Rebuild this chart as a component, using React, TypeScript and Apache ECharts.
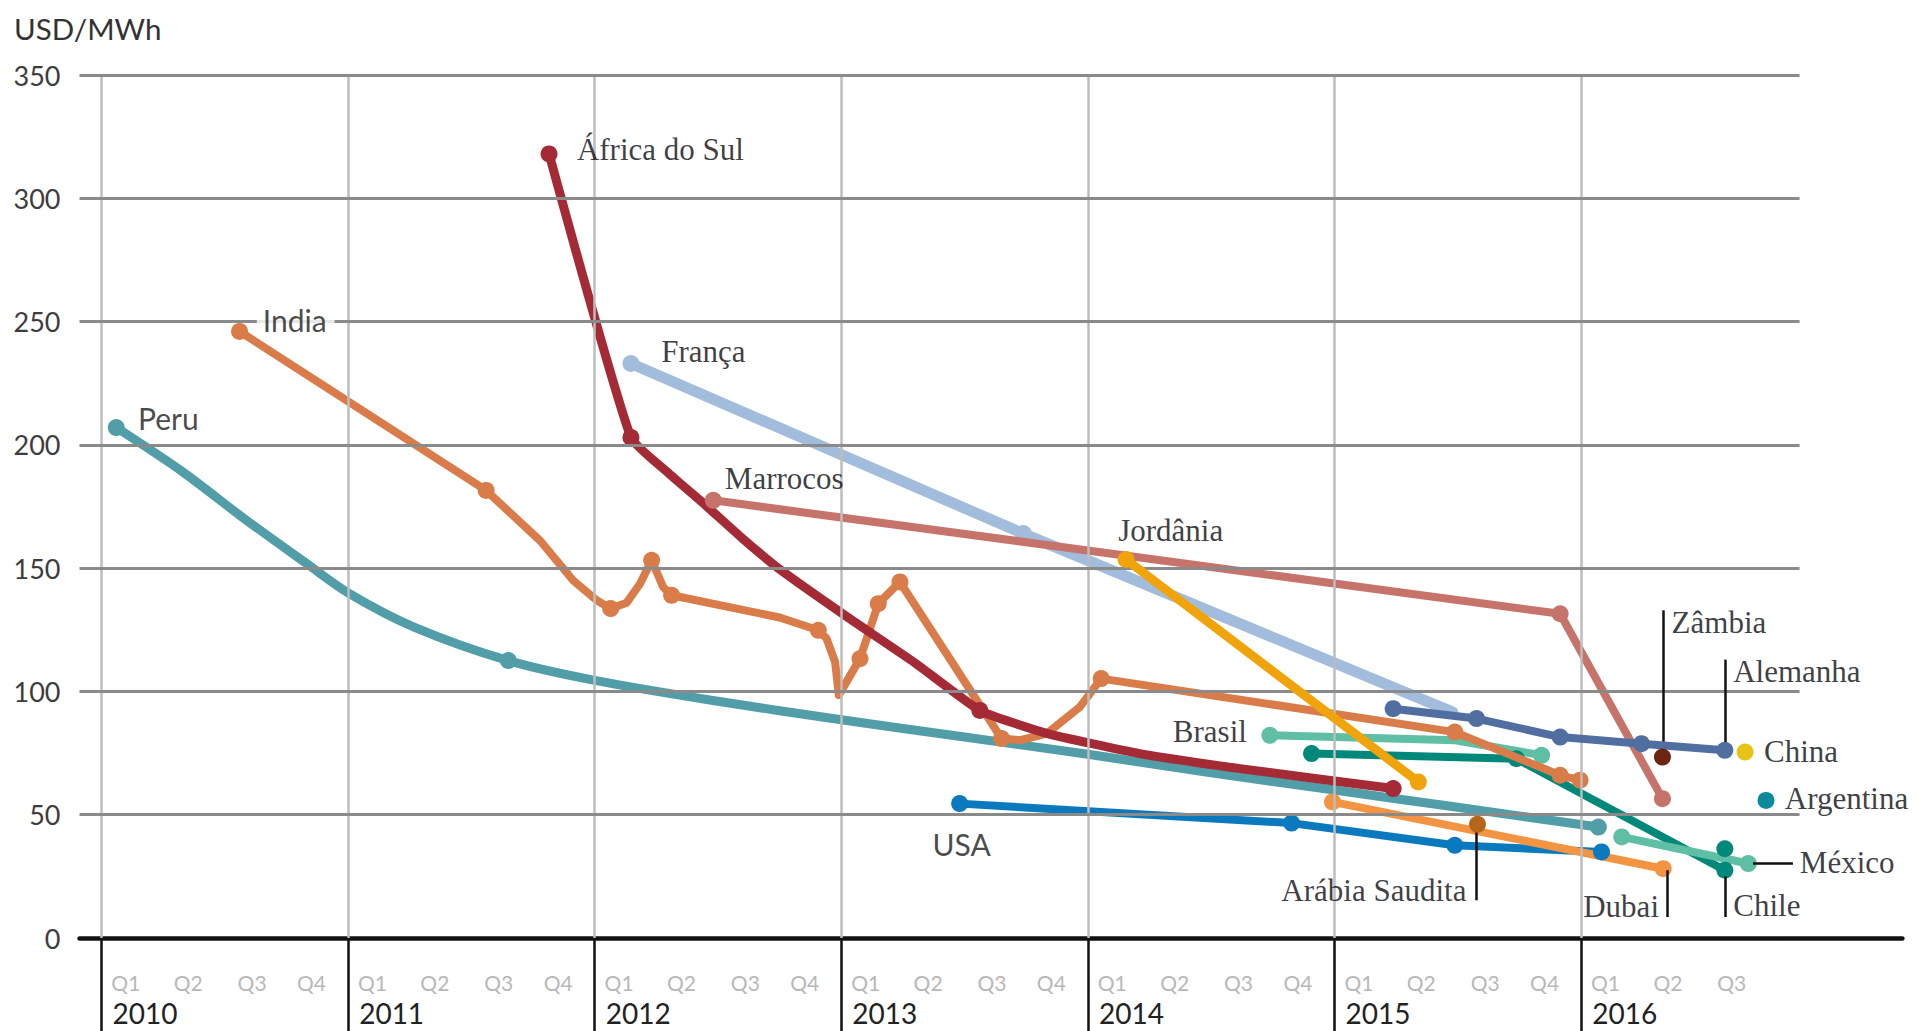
import { useEffect, useRef } from "react";
import * as echarts from "echarts";

// ---------------- DATA ----------------
const unitLabel = "USD/MWh";
const years = [2010, 2011, 2012, 2013, 2014, 2015, 2016];
const quarterNames = ["Q1", "Q2", "Q3", "Q4"];
const quartersIn2016 = 3;
const yGridValues = [50, 100, 150, 200, 250, 300, 350];

// point: [time in decimal years, USD/MWh, 1 = auction marker / 0 = curve point]
const peru = [
  [2010.06, 207, 1], [2010.33, 189, 0], [2010.58, 170, 0], [2010.83, 152, 0],
  [2011.0, 140, 0], [2011.27, 126, 0], [2011.65, 112.5, 1], [2012.0, 104.5, 0],
  [2012.5, 96, 0], [2013.0, 88.5, 0], [2013.5, 81.5, 0], [2014.0, 74.5, 0],
  [2014.5, 67, 0], [2015.0, 60, 0], [2015.5, 53, 0], [2016.07, 45, 1],
];
const india = [
  [2010.56, 246, 1], [2011.56, 181.5, 1], [2011.78, 161, 0], [2011.913, 145, 0],
  [2012.008, 137, 0], [2012.065, 133.6, 1], [2012.13, 136, 0], [2012.184, 143.7, 0],
  [2012.231, 153.2, 1], [2012.278, 142.3, 0], [2012.312, 139, 1], [2012.75, 130, 0],
  [2012.907, 124.8, 1], [2012.94, 121.5, 0], [2012.975, 112, 0], [2012.99, 98.5, 0],
  [2013.076, 113.3, 1], [2013.15, 135.6, 1], [2013.238, 144.4, 1], [2013.65, 80.9, 1],
  [2013.725, 80.2, 0], [2013.833, 82.9, 0], [2013.968, 93.7, 0], [2014.054, 105.2, 1],
  [2015.488, 83.5, 1], [2015.915, 66, 1], [2015.996, 64, 1],
];
const africaDoSul = [
  [2011.815, 318, 1], [2012.147, 203, 1], [2012.3, 188.5, 0], [2012.45, 175.5, 0],
  [2012.6, 162, 0], [2012.751, 149.5, 0], [2013.02, 130.5, 0], [2013.3, 111.5, 0],
  [2013.562, 92.3, 1], [2013.833, 83, 0], [2014.21, 74.8, 0], [2014.617, 68.7, 0],
  [2015.238, 60.6, 1],
];
const franca = [[2012.147, 233, 1], [2013.738, 164, 1], [2015.48, 91.6, 0]];
const marrocos = [[2012.481, 177.5, 1], [2015.915, 131.5, 1], [2016.33, 56.5, 1]];
const jordania = [[2014.155, 153.5, 1], [2015.34, 63.3, 1]];
const usa = [[2013.48, 54.5, 1], [2014.826, 46.6, 1], [2015.488, 37.6, 1], [2016.083, 34.9, 1]];
const brasil = [[2014.738, 82.2, 1], [2015.49, 80.2, 0], [2015.84, 74.1, 1]];
const chile = [[2014.907, 74.8, 1], [2015.738, 72.7, 1], [2016.583, 27.5, 1]];
const mexico = [[2016.165, 41, 1], [2016.678, 30.2, 1]];
const dubai = [[2014.992, 55.2, 1], [2016.333, 28.1, 1]];
const alemanha = [
  [2015.238, 93, 1], [2015.576, 89, 1], [2015.915, 81.5, 1], [2016.245, 78.8, 1], [2016.583, 76.1, 1],
];
// single auctions
const zambia = [[2016.33, 73.4]];
const china = [[2016.665, 75.4]];
const argentina = [[2016.75, 55.8]];
const arabiaSaudita = [[2015.58, 46.1]];
const chileSecond = [[2016.583, 36.2]];

// ---------------- LAYOUT / STYLE ----------------
const X_MIN = 2009.911;
const X_MAX = 2017.303;
const GRID_END = 2016.886;
const Y_MAX = 350;
const Q_OFFSETS = [0.099, 0.352, 0.611, 0.852];
const MARK = 17;

const SERIF = "'Liberation Serif', 'DejaVu Serif', serif";
const SANS = "Lato, 'Open Sans', sans-serif";

const lines = [
  { name: "França", data: franca, color: "#a2bcdc", width: 11, z: 2 },
  { name: "Peru", data: peru, color: "#519ea8", width: 9, z: 2, smooth: 0.3 },
  { name: "USA", data: usa, color: "#0b79bd", width: 8, z: 2 },
  { name: "Dubai", data: dubai, color: "#f39443", width: 8, z: 2 },
  { name: "Brasil", data: brasil, color: "#5fbfa4", width: 8, z: 2 },
  { name: "Chile", data: chile, color: "#00897a", width: 8, z: 2 },
  { name: "México", data: mexico, color: "#5fbfa4", width: 8, z: 2 },
  { name: "India", data: india, color: "#d97c4a", width: 8, z: 3 },
  { name: "África do Sul", data: africaDoSul, color: "#a42b35", width: 9, z: 4, smooth: 0.15 },
  { name: "Marrocos", data: marrocos, color: "#c6746b", width: 8, z: 4 },
  { name: "Jordânia", data: jordania, color: "#f0a30a", width: 9, z: 5 },
  { name: "Alemanha", data: alemanha, color: "#506fa0", width: 8, z: 5 },
];

const singles = [
  { name: "Arábia Saudita", data: arabiaSaudita, color: "#b7651b" },
  { name: "Zâmbia", data: zambia, color: "#6b2511" },
  { name: "China", data: china, color: "#e7c316" },
  { name: "Argentina", data: argentina, color: "#0b8a9c" },
  { name: "Chile 2", data: chileSecond, color: "#00897a" },
];

// label anchors (data coordinates); anchor "start" = text begins at point, "end" = text ends at point
const labels = [
  { text: "Peru", t: 2010.148, v: 211, anchor: "start", font: "sans" },
  { text: "India", t: 2010.63, v: 250.5, anchor: "start", font: "sans", bg: true },
  { text: "USA", t: 2013.37, v: 38.2, anchor: "start", font: "sans" },
  { text: "África do Sul", t: 2011.928, v: 319.8, anchor: "start", font: "serif" },
  { text: "França", t: 2012.27, v: 238, anchor: "start", font: "serif" },
  { text: "Marrocos", t: 2012.528, v: 186.4, anchor: "start", font: "serif" },
  { text: "Jordânia", t: 2014.123, v: 165.3, anchor: "start", font: "serif" },
  { text: "Brasil", t: 2014.645, v: 83.8, anchor: "end", font: "serif" },
  { text: "Arábia Saudita", t: 2015.535, v: 19.4, anchor: "end", font: "serif" },
  { text: "Zâmbia", t: 2016.367, v: 128.1, anchor: "start", font: "serif" },
  { text: "Alemanha", t: 2016.617, v: 107.9, anchor: "start", font: "serif" },
  { text: "China", t: 2016.742, v: 75.8, anchor: "start", font: "serif" },
  { text: "Argentina", t: 2016.826, v: 56.5, anchor: "start", font: "serif" },
  { text: "México", t: 2016.887, v: 30.8, anchor: "start", font: "serif" },
  { text: "Dubai", t: 2016.316, v: 12.6, anchor: "end", font: "serif" },
  { text: "Chile", t: 2016.617, v: 13.3, anchor: "start", font: "serif" },
];

const leaders = [
  [[2015.574, 45], [2015.574, 15.3]],
  [[2016.332, 132.9], [2016.332, 73.7]],
  [[2016.583, 112.9], [2016.583, 76.1]],
  [[2016.697, 30.3], [2016.859, 30.3]],
  [[2016.35, 27.5], [2016.35, 8.5]],
  [[2016.583, 25], [2016.583, 8.5]],
];

function buildOption() {
  const qValues: number[] = [];
  years.forEach((y) => {
    const n = y === 2016 ? quartersIn2016 : 4;
    for (let q = 0; q < n; q++) qValues.push(y + Q_OFFSETS[q]);
  });
  const quarterOf = (v: number) => {
    const frac = v - Math.floor(v + 1e-6);
    let best = 0;
    Q_OFFSETS.forEach((o, i) => {
      if (Math.abs(o - frac) < Math.abs(Q_OFFSETS[best] - frac)) best = i;
    });
    return quarterNames[best];
  };

  const gridLines: any[] = [];
  years.forEach((y) =>
    gridLines.push([
      { coord: [y, 0], lineStyle: { color: "#bdbdbd", width: 2.5, type: "solid" } },
      { coord: [y, Y_MAX] },
    ])
  );
  yGridValues.forEach((v) =>
    gridLines.push([
      { coord: [X_MIN, v], lineStyle: { color: "#8a8a8a", width: 3, type: "solid" } },
      { coord: [GRID_END, v] },
    ])
  );

  const series: any[] = [
    {
      type: "line",
      name: "grid",
      data: [],
      z: 1,
      silent: true,
      markLine: {
        silent: true,
        symbol: ["none", "none"],
        label: { show: false },
        emphasis: { disabled: true },
        data: gridLines,
      },
    },
    {
      type: "line",
      name: "leaders",
      data: [],
      z: 1,
      silent: true,
      markLine: {
        silent: true,
        symbol: ["none", "none"],
        label: { show: false },
        emphasis: { disabled: true },
        lineStyle: { color: "#111", width: 2.5, type: "solid" },
        data: leaders.map(([a, b]) => [{ coord: a }, { coord: b }]),
      },
    },
  ];

  lines.forEach((s: any) => {
    series.push({
      type: "line",
      name: s.name,
      data: s.data.map((p: number[]) => ({ value: [p[0], p[1]], symbolSize: p[2] ? MARK : 0 })),
      symbol: "circle",
      showSymbol: true,
      showAllSymbol: true,
      smooth: s.smooth || false,
      clip: false,
      z: s.z,
      lineStyle: { color: s.color, width: s.width, cap: "round", join: "round" },
      itemStyle: { color: s.color },
      emphasis: { disabled: true },
    });
  });

  singles.forEach((s) => {
    series.push({
      type: "scatter",
      name: s.name,
      data: s.data,
      symbolSize: MARK,
      z: 6,
      itemStyle: { color: s.color, opacity: 1 },
      emphasis: { disabled: true },
    });
  });

  series.push({
    type: "scatter",
    name: "labels",
    symbolSize: 0.01,
    z: 8,
    silent: true,
    data: labels.map((l: any) => ({
      value: [l.t, l.v],
      label: {
        show: true,
        formatter: l.text,
        position: l.anchor === "start" ? "right" : "left",
        distance: 0,
        fontFamily: l.font === "serif" ? SERIF : SANS,
        fontSize: l.font === "serif" ? 31 : 30,
        color: l.font === "serif" ? "#0b0b12" : "#1a1a1a",
        backgroundColor: l.bg ? "#ffffff" : "transparent",
        padding: l.bg ? [2, 8, 2, 6] : 0,
      },
    })),
  });

  return {
    animation: false,
    backgroundColor: "#ffffff",
    title: {
      text: unitLabel,
      left: 14,
      top: 13,
      padding: 0,
      textStyle: { fontFamily: SANS, fontSize: 29.5, fontWeight: "normal", color: "#333" },
    },
    grid: { left: 79.5, right: 14.6, top: 75, bottom: 93, containLabel: false },
    xAxis: [
      {
        type: "value",
        min: X_MIN,
        max: X_MAX,
        axisLine: { show: true, onZero: true, lineStyle: { color: "#111", width: 4.5 } },
        axisTick: {
          show: true,
          customValues: years,
          length: 93,
          lineStyle: { color: "#111", width: 2.5 },
        },
        axisLabel: {
          show: true,
          customValues: qValues,
          formatter: (v: number) => quarterOf(v),
          margin: 44,
          verticalAlign: "middle",
          align: "center",
          color: "#b8b8b8",
          fontFamily: SANS,
          fontSize: 21,
          hideOverlap: false,
        },
        splitLine: { show: false },
      },
      {
        type: "value",
        min: X_MIN,
        max: X_MAX,
        position: "bottom",
        axisLine: { show: false },
        axisTick: { show: false },
        axisLabel: {
          show: true,
          customValues: years.map((y) => y + 0.045),
          formatter: (v: number) => String(Math.floor(v)),
          margin: 75,
          verticalAlign: "middle",
          align: "left",
          color: "#222",
          fontFamily: SANS,
          fontSize: 28,
          hideOverlap: false,
        },
        splitLine: { show: false },
      },
    ],
    yAxis: {
      type: "value",
      min: 0,
      max: Y_MAX,
      interval: 50,
      axisLine: { show: false },
      axisTick: { show: false },
      splitLine: { show: false },
      axisLabel: { margin: 19, color: "#3d3d3d", fontFamily: SANS, fontSize: 27 },
    },
    series,
  };
}

export default function App() {
  const ref = useRef<HTMLDivElement>(null);
  useEffect(() => {
    if (!ref.current) return;
    const chart = echarts.init(ref.current, null, { renderer: "svg" });
    chart.setOption(buildOption() as any);
    return () => chart.dispose();
  }, []);
  return (
    <div
      ref={ref}
      style={{ position: "fixed", left: 0, top: 0, width: "1917px", height: "1031px", background: "#fff" }}
    />
  );
}
